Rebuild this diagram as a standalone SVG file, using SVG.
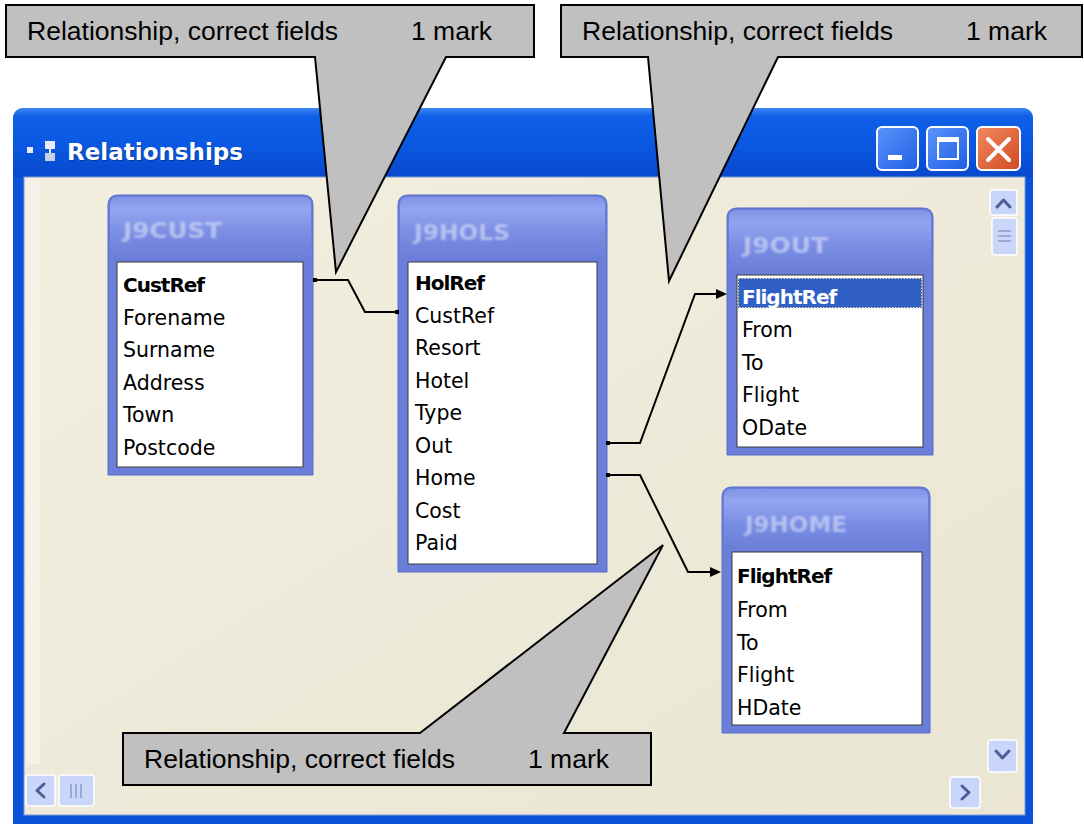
<svg xmlns="http://www.w3.org/2000/svg" width="1084" height="824" viewBox="0 0 1084 824">
<style>
.callout{fill:#C0C0C0;stroke:#000;stroke-width:2;stroke-linejoin:miter}
.ctext{font-family:"Liberation Sans",Arial,sans-serif;font-size:25px;fill:#000}
.frame{fill:#6B7ED9;stroke:#5A6CCB;stroke-width:1}
.hdr{fill:url(#hdrGrad)}
.ttl{font-family:"DejaVu Sans",sans-serif;font-weight:bold;font-size:21px;fill:#DDE4FB;opacity:0.6;filter:url(#soft)}
.list{fill:#FFFFFF;stroke:#3A3A3A;stroke-width:1}
.fld{font-family:"DejaVu Sans",Verdana,sans-serif;font-size:20.5px;fill:#000}
.pk{font-family:"DejaVu Sans",Verdana,sans-serif;font-size:20px;font-weight:bold;fill:#000;letter-spacing:-1px}
.sb{fill:#C9D6FA;stroke:#FFFFFF;stroke-width:1.5}
.chev{fill:none;stroke:#4A5F96;stroke-width:3;stroke-linecap:round;stroke-linejoin:round}
</style>
<defs>
<linearGradient id="titleGrad" x1="0" y1="0" x2="0" y2="1">
<stop offset="0" stop-color="#3C86F5"/>
<stop offset="0.12" stop-color="#0F5FE8"/>
<stop offset="0.55" stop-color="#0A58E2"/>
<stop offset="1" stop-color="#0848CC"/>
</linearGradient>
<linearGradient id="clientGrad" x1="0" y1="0" x2="1" y2="1">
<stop offset="0" stop-color="#F2EFE0"/>
<stop offset="0.5" stop-color="#EEEAD9"/>
<stop offset="1" stop-color="#EAE6D3"/>
</linearGradient>
<linearGradient id="hdrGrad" x1="0" y1="0" x2="0" y2="1">
<stop offset="0" stop-color="#8193E6"/>
<stop offset="0.2" stop-color="#93A4EF"/>
<stop offset="0.6" stop-color="#7A8DE3"/>
<stop offset="1" stop-color="#6B7ED9"/>
</linearGradient>
<linearGradient id="btnGrad" x1="0" y1="0" x2="1" y2="1">
<stop offset="0" stop-color="#5B95FA"/>
<stop offset="1" stop-color="#1E5EE6"/>
</linearGradient>
<linearGradient id="closeGrad" x1="0" y1="0" x2="1" y2="1">
<stop offset="0" stop-color="#F08A60"/>
<stop offset="1" stop-color="#D24A22"/>
</linearGradient>
<marker id="arrow" markerUnits="userSpaceOnUse" markerWidth="12" markerHeight="12" refX="0" refY="5" orient="auto">
<path d="M0,0 L11,5 L0,10 Z" fill="#000"/>
</marker>
<filter id="soft" x="-10%" y="-30%" width="120%" height="160%"><feGaussianBlur stdDeviation="0.8"/></filter>
</defs>

<rect width="1084" height="824" fill="#FFFFFF"/>

<g id="window">
<path d="M13,120 Q13,108 25,108 H1021 Q1033,108 1033,120 V824 H13 Z" fill="#0B52DA"/>
<path d="M13,120 Q13,108 25,108 H1021 Q1033,108 1033,120 V177 H13 Z" fill="url(#titleGrad)"/>
<rect x="24" y="177" width="1001" height="638" fill="url(#clientGrad)" stroke="#7C9BD8" stroke-width="1"/>
<rect x="26" y="179" width="14" height="585" fill="#F7F5EC" opacity="0.7"/>
<g id="title-icon">
<rect x="27" y="147" width="6" height="6" fill="#E8ECF8"/>
<rect x="45" y="141" width="10" height="8" fill="#E8ECF8"/>
<rect x="45" y="153" width="10" height="8" fill="#C8D0E8"/>
<rect x="49" y="149" width="2" height="4" fill="#E8ECF8"/>
</g>
<text x="68" y="161" font-family="'DejaVu Sans',sans-serif" font-weight="bold" font-size="23" fill="#0A2470" opacity="0.6" textLength="176" lengthAdjust="spacingAndGlyphs">Relationships</text>
<text x="67" y="160" font-family="'DejaVu Sans',sans-serif" font-weight="bold" font-size="23" fill="#FFFFFF" textLength="176" lengthAdjust="spacingAndGlyphs">Relationships</text>
<g id="btn-min">
<rect x="877" y="127" width="41" height="43" rx="5" fill="url(#btnGrad)" stroke="#FFFFFF" stroke-width="2"/>
<rect x="888" y="155" width="14" height="5" fill="#FFFFFF"/>
</g>
<g id="btn-max">
<rect x="927" y="127" width="41" height="43" rx="5" fill="url(#btnGrad)" stroke="#FFFFFF" stroke-width="2"/>
<rect x="938" y="138" width="20" height="21" fill="none" stroke="#FFFFFF" stroke-width="2"/>
<rect x="938" y="138" width="20" height="4" fill="#FFFFFF"/>
</g>
<g id="btn-close">
<rect x="977" y="127" width="43" height="43" rx="5" fill="url(#closeGrad)" stroke="#FFFFFF" stroke-width="2"/>
<path d="M988,139 L1009,160 M1009,139 L988,160" stroke="#FFFFFF" stroke-width="4" stroke-linecap="round"/>
</g>
<g id="scrollbars">
<rect class="sb" x="990" y="190" width="27" height="25" rx="3"/>
<path class="chev" d="M997,207 L1003.5,200 L1010,207"/>
<rect class="sb" x="992" y="218" width="25" height="37" rx="3"/>
<path d="M998,231 H1011 M998,236 H1011 M998,241 H1011" stroke="#8A9CC8" stroke-width="1.5"/>
<rect class="sb" x="988" y="740" width="29" height="32" rx="3"/>
<path class="chev" d="M996,751 L1002.5,758 L1009,751"/>
<rect class="sb" x="950" y="777" width="30" height="31" rx="3"/>
<path class="chev" d="M962,786 L969,792.5 L962,799"/>
<rect class="sb" x="26" y="775" width="29" height="31" rx="3"/>
<path class="chev" d="M44,784 L37,790.5 L44,797"/>
<rect class="sb" x="59" y="775" width="35" height="31" rx="3"/>
<path d="M71,784 V798 M76,784 V798 M81,784 V798" stroke="#8A9CC8" stroke-width="1.5"/>
</g>
</g>

<g id="j9cust">
<path class="frame" d="M108,205 Q108,195 118,195 H303 Q313,195 313,205 V475 H108 Z"/>
<path class="hdr" d="M110,205 Q110,197 118,197 H303 Q311,197 311,205 V258 H110 Z"/>
<text class="ttl" x="123" y="238" textLength="99" lengthAdjust="spacingAndGlyphs">J9CUST</text>
<rect class="list" x="117" y="262" width="186" height="205"/>
<text class="pk" x="123" y="292">CustRef</text>
<text class="fld" x="123" y="324.5">Forename</text>
<text class="fld" x="123" y="357">Surname</text>
<text class="fld" x="123" y="389.5">Address</text>
<text class="fld" x="123" y="422">Town</text>
<text class="fld" x="123" y="454.5">Postcode</text>
</g>

<g id="j9hols">
<path class="frame" d="M398,205 Q398,195 408,195 H597 Q607,195 607,205 V572 H398 Z"/>
<path class="hdr" d="M400,205 Q400,197 408,197 H597 Q605,197 605,205 V258 H400 Z"/>
<text class="ttl" x="414" y="240" textLength="96" lengthAdjust="spacingAndGlyphs">J9HOLS</text>
<rect class="list" x="408" y="262" width="189" height="302"/>
<text class="pk" x="415" y="290">HolRef</text>
<text class="fld" x="415" y="322.5">CustRef</text>
<text class="fld" x="415" y="355">Resort</text>
<text class="fld" x="415" y="387.5">Hotel</text>
<text class="fld" x="415" y="420">Type</text>
<text class="fld" x="415" y="452.5">Out</text>
<text class="fld" x="415" y="485">Home</text>
<text class="fld" x="415" y="517.5">Cost</text>
<text class="fld" x="415" y="550">Paid</text>
</g>

<g id="j9out">
<path class="frame" d="M727,218 Q727,208 737,208 H923 Q933,208 933,218 V455 H727 Z"/>
<path class="hdr" d="M729,218 Q729,210 737,210 H923 Q931,210 931,218 V271 H729 Z"/>
<text class="ttl" x="743" y="253" textLength="85" lengthAdjust="spacingAndGlyphs">J9OUT</text>
<rect class="list" x="737" y="275" width="186" height="172"/>
<rect x="738" y="278" width="184" height="30" fill="#2F5FC4"/>
<rect x="738.5" y="278.5" width="183" height="29" fill="none" stroke="#E8E0A0" stroke-width="1" stroke-dasharray="1.5,1.5"/>
<text class="pk" x="742" y="304" style="fill:#FFFFFF">FlightRef</text>
<text class="fld" x="742" y="337">From</text>
<text class="fld" x="742" y="369.5">To</text>
<text class="fld" x="742" y="402">Flight</text>
<text class="fld" x="742" y="434.5">ODate</text>
</g>

<g id="j9home">
<path class="frame" d="M722,497 Q722,487 732,487 H920 Q930,487 930,497 V733 H722 Z"/>
<path class="hdr" d="M724,497 Q724,489 732,489 H920 Q928,489 928,497 V548 H724 Z"/>
<text class="ttl" x="745" y="532" textLength="102" lengthAdjust="spacingAndGlyphs">J9HOME</text>
<rect class="list" x="732" y="552" width="190" height="173"/>
<text class="pk" x="737" y="583">FlightRef</text>
<text class="fld" x="737" y="616.5">From</text>
<text class="fld" x="737" y="649.5">To</text>
<text class="fld" x="737" y="682">Flight</text>
<text class="fld" x="737" y="714.5">HDate</text>
</g>

<g id="connectors">
<g fill="none" stroke="#000" stroke-width="2" stroke-linejoin="miter">
<polyline points="316,280 348,280 365,312 397,312"/>
<polyline points="608,443 640,443 695,294 716,294" marker-end="url(#arrow)"/>
<polyline points="608,475 640,475 688,572 710,572" marker-end="url(#arrow)"/>
</g>
<rect x="313" y="278" width="4" height="4" fill="#000"/>
<rect x="395" y="310" width="4" height="4" fill="#000"/>
<rect x="606" y="441" width="4" height="4" fill="#000"/>
<rect x="606" y="473" width="4" height="4" fill="#000"/>
</g>

<g id="callout1">
<path class="callout" d="M6,5 H534 V57 H446 L336,272 L315,57 H6 Z"/>
<text class="ctext" x="27" y="40" textLength="311" lengthAdjust="spacingAndGlyphs">Relationship, correct fields</text>
<text class="ctext" x="411" y="40" textLength="81" lengthAdjust="spacingAndGlyphs">1 mark</text>
</g>
<g id="callout2">
<path class="callout" d="M561,5 H1082 V57 H778 L669,281 L648,57 H561 Z"/>
<text class="ctext" x="582" y="40" textLength="311" lengthAdjust="spacingAndGlyphs">Relationship, correct fields</text>
<text class="ctext" x="966" y="40" textLength="81" lengthAdjust="spacingAndGlyphs">1 mark</text>
</g>
<g id="callout3">
<path class="callout" d="M123,733 H420 L663,545 L564,733 H651 V785 H123 Z"/>
<text class="ctext" x="144" y="768" textLength="311" lengthAdjust="spacingAndGlyphs">Relationship, correct fields</text>
<text class="ctext" x="528" y="768" textLength="81" lengthAdjust="spacingAndGlyphs">1 mark</text>
</g>
</svg>
